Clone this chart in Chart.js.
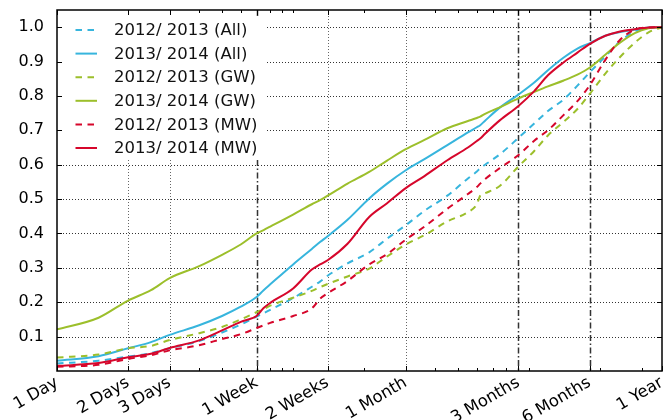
<!DOCTYPE html>
<html>
<head>
<meta charset="utf-8">
<script src="https://cdn.jsdelivr.net/npm/chart.js@4.4.1/dist/chart.umd.min.js"></script>
<style>
  html, body { margin: 0; padding: 0; background: #fff; }
  canvas { display: block; }
</style>
</head>
<body>
<canvas id="cdfChart" width="663" height="420"></canvas>
<script>
/* CDF of waiting time, log-scaled in days */

const days = [1, 1.5, 2, 2.5, 3, 4, 5, 6, 7, 7.5, 8, 10, 12, 13, 14, 17, 21, 25, 30, 36, 45, 55, 60, 62, 65, 75, 90, 105, 120, 140, 160, 180, 210, 240, 280, 320, 365];

const allOld = [0.022, 0.030, 0.042, 0.052, 0.066, 0.087, 0.112, 0.135, 0.158, 0.168, 0.178, 0.212, 0.245, 0.260, 0.277, 0.313, 0.345, 0.385, 0.424, 0.466, 0.510, 0.560, 0.580, 0.590, 0.600, 0.630, 0.678, 0.720, 0.756, 0.790, 0.830, 0.868, 0.915, 0.956, 0.988, 0.998, 1.0];
const allNew = [0.030, 0.043, 0.066, 0.084, 0.105, 0.133, 0.160, 0.187, 0.215, 0.235, 0.252, 0.310, 0.355, 0.375, 0.392, 0.440, 0.502, 0.545, 0.584, 0.616, 0.657, 0.694, 0.709, 0.715, 0.728, 0.766, 0.804, 0.839, 0.875, 0.912, 0.938, 0.953, 0.975, 0.985, 0.993, 0.999, 1.0];
const gwOld = [0.039, 0.048, 0.066, 0.073, 0.090, 0.110, 0.128, 0.150, 0.171, 0.180, 0.190, 0.213, 0.233, 0.244, 0.253, 0.275, 0.298, 0.333, 0.368, 0.395, 0.435, 0.462, 0.485, 0.510, 0.517, 0.538, 0.595, 0.640, 0.685, 0.725, 0.762, 0.805, 0.865, 0.910, 0.955, 0.985, 1.0];
const gwNew = [0.121, 0.155, 0.205, 0.235, 0.270, 0.305, 0.338, 0.368, 0.400, 0.410, 0.420, 0.455, 0.485, 0.497, 0.510, 0.545, 0.579, 0.612, 0.645, 0.672, 0.706, 0.727, 0.736, 0.740, 0.748, 0.767, 0.793, 0.812, 0.828, 0.845, 0.862, 0.882, 0.920, 0.953, 0.983, 0.997, 1.0];
const mwOld = [0.012, 0.018, 0.035, 0.046, 0.060, 0.075, 0.093, 0.107, 0.125, 0.133, 0.140, 0.160, 0.182, 0.210, 0.226, 0.262, 0.310, 0.340, 0.382, 0.420, 0.472, 0.515, 0.535, 0.545, 0.558, 0.590, 0.628, 0.670, 0.700, 0.745, 0.785, 0.830, 0.905, 0.960, 0.993, 0.999, 1.0];
const mwNew = [0.015, 0.023, 0.040, 0.050, 0.067, 0.089, 0.118, 0.143, 0.160, 0.183, 0.198, 0.240, 0.295, 0.310, 0.322, 0.370, 0.448, 0.488, 0.532, 0.567, 0.613, 0.650, 0.669, 0.676, 0.690, 0.729, 0.771, 0.814, 0.860, 0.898, 0.926, 0.951, 0.975, 0.987, 0.994, 0.999, 1.0];

const seriesLabels = ["2012/ 2013 (All)", "2013/ 2014 (All)", "2012/ 2013 (GW)", "2013/ 2014 (GW)", "2012/ 2013 (MW)", "2013/ 2014 (MW)"];

const tickDays = [1, 2, 3, 7, 14, 30, 90, 180, 365];
const tickLabels = ["1 Day", "2 Days", "3 Days", "1 Week", "2 Weeks", "1 Month", "3 Months", "6 Months", "1 Year"];
const minorDays = [4, 5, 6, 8, 9, 10, 20, 40, 50, 60, 70, 80, 100, 200, 300];
const dashDotDays = [7, 90, 180];
const yTicks = [0.1, 0.2, 0.3, 0.4, 0.5, 0.6, 0.7, 0.8, 0.9, 1.0];

const BLUE = "#37b5dd";
const GREEN = "#9cbf2b";
const RED = "#d6062b";
const DASH = [6.5, 5.5];
const FONT = "DejaVu Sans";

function series(label, values, color, dashed, order) {
  return {
    label,
    data: days.map((d, i) => ({ x: d, y: values[i] })),
    borderColor: color,
    backgroundColor: color,
    borderWidth: 2,
    borderDash: dashed ? DASH : [],
    pointRadius: 0,
    cubicInterpolationMode: "monotone",
    fill: false,
    order,
  };
}

function line(ctx, x1, y1, x2, y2) {
  ctx.beginPath();
  ctx.moveTo(x1, y1);
  ctx.lineTo(x2, y2);
  ctx.stroke();
}

// matplotlib-like grid, frame, ticks and in-plot legend
const mplLook = {
  id: "mplLook",
  beforeDatasetsDraw(chart) {
    const { ctx, chartArea: a, scales: { x, y } } = chart;
    ctx.save();
    ctx.lineWidth = 1;
    ctx.strokeStyle = "#333";
    ctx.setLineDash([1, 2]);
    yTicks.forEach((v) => {
      const py = Math.round(y.getPixelForValue(v)) + 0.5;
      line(ctx, a.left, py, a.right, py);
    });
    ctx.strokeStyle = "#666";
    tickDays.forEach((d) => {
      if (d === 1 || d === 365 || dashDotDays.includes(d)) return;
      const px = Math.round(x.getPixelForValue(d)) + 0.5;
      line(ctx, px, a.top, px, a.bottom);
    });
    ctx.strokeStyle = "#333";
    ctx.lineWidth = 1.5;
    ctx.setLineDash([6, 2.5, 1.5, 2.5]);
    dashDotDays.forEach((d) => {
      const px = Math.round(x.getPixelForValue(d)) + 0.5;
      line(ctx, px, a.top, px, a.bottom);
    });
    ctx.restore();
  },
  afterDatasetsDraw(chart) {
    const { ctx, chartArea: a, scales: { x, y } } = chart;
    ctx.save();

    // legend box
    ctx.fillStyle = "#fff";
    ctx.fillRect(a.left + 5, a.top + 6, 205, 144);
    ctx.font = "16.5px '" + FONT + "'";
    ctx.textBaseline = "middle";
    chart.data.datasets.forEach((ds, i) => {
      const cy = a.top + 20 + i * 23.6;
      ctx.strokeStyle = ds.borderColor;
      ctx.lineWidth = 2;
      ctx.setLineDash(ds.borderDash);
      line(ctx, a.left + 18.5, cy, a.left + 40, cy);
      ctx.setLineDash([]);
      ctx.fillStyle = "#111";
      ctx.fillText(ds.label, a.left + 57, cy + 1);
    });

    // ticks, inward
    ctx.setLineDash([]);
    ctx.strokeStyle = "#000";
    ctx.lineWidth = 1;
    tickDays.forEach((d) => {
      const px = Math.round(x.getPixelForValue(d)) + 0.5;
      line(ctx, px, a.bottom, px, a.bottom - 5);
      line(ctx, px, a.top, px, a.top + 5);
    });
    minorDays.forEach((d) => {
      const px = Math.round(x.getPixelForValue(d)) + 0.5;
      line(ctx, px, a.bottom, px, a.bottom - 3);
      line(ctx, px, a.top, px, a.top + 3);
    });
    yTicks.forEach((v) => {
      const py = Math.round(y.getPixelForValue(v)) + 0.5;
      line(ctx, a.left, py, a.left + 5, py);
      line(ctx, a.right, py, a.right - 5, py);
    });

    // frame
    ctx.lineWidth = 1.5;
    ctx.strokeRect(a.left, a.top, a.right - a.left, a.bottom - a.top);
    ctx.restore();
  },
};

const ctx = document.getElementById("cdfChart");
new Chart(ctx, {
  type: "line",
  data: {
    datasets: [
      series(seriesLabels[0], allOld, BLUE, true, 5),
      series(seriesLabels[1], allNew, BLUE, false, 4),
      series(seriesLabels[2], gwOld, GREEN, true, 3),
      series(seriesLabels[3], gwNew, GREEN, false, 2),
      series(seriesLabels[4], mwOld, RED, true, 1),
      series(seriesLabels[5], mwNew, RED, false, 0),
    ],
  },
  options: {
    responsive: false,
    animation: false,
    events: [],
    layout: { padding: { top: 10, right: 1, left: 0, bottom: 0 } },
    plugins: { legend: { display: false }, tooltip: { enabled: false } },
    scales: {
      x: {
        type: "logarithmic",
        min: 1,
        max: 365,
        grid: { display: false },
        border: { display: false },
        afterBuildTicks: (s) => { s.ticks = tickDays.map((v) => ({ value: v })); },
        afterFit: (s) => {
          s.height = 49;
          s.paddingLeft = 0;
          s.paddingRight = 0;
        },
        ticks: {
          autoSkip: false,
          minRotation: 30,
          maxRotation: 30,
          padding: -6,
          color: "#000",
          font: { family: FONT, size: 16.5 },
          callback: (v, i) => tickLabels[i],
        },
      },
      y: {
        min: 0,
        max: 1.05,
        grid: { display: false },
        border: { display: false },
        afterBuildTicks: (s) => { s.ticks = yTicks.map((v) => ({ value: v })); },
        afterFit: (s) => {
          s.width = 57;
          s.paddingTop = 0;
          s.paddingBottom = 0;
        },
        ticks: {
          padding: 5,
          color: "#000",
          font: { family: FONT, size: 16 },
          callback: (v) => Number(v).toFixed(1),
        },
      },
    },
  },
  plugins: [mplLook],
});
</script>
</body>
</html>
